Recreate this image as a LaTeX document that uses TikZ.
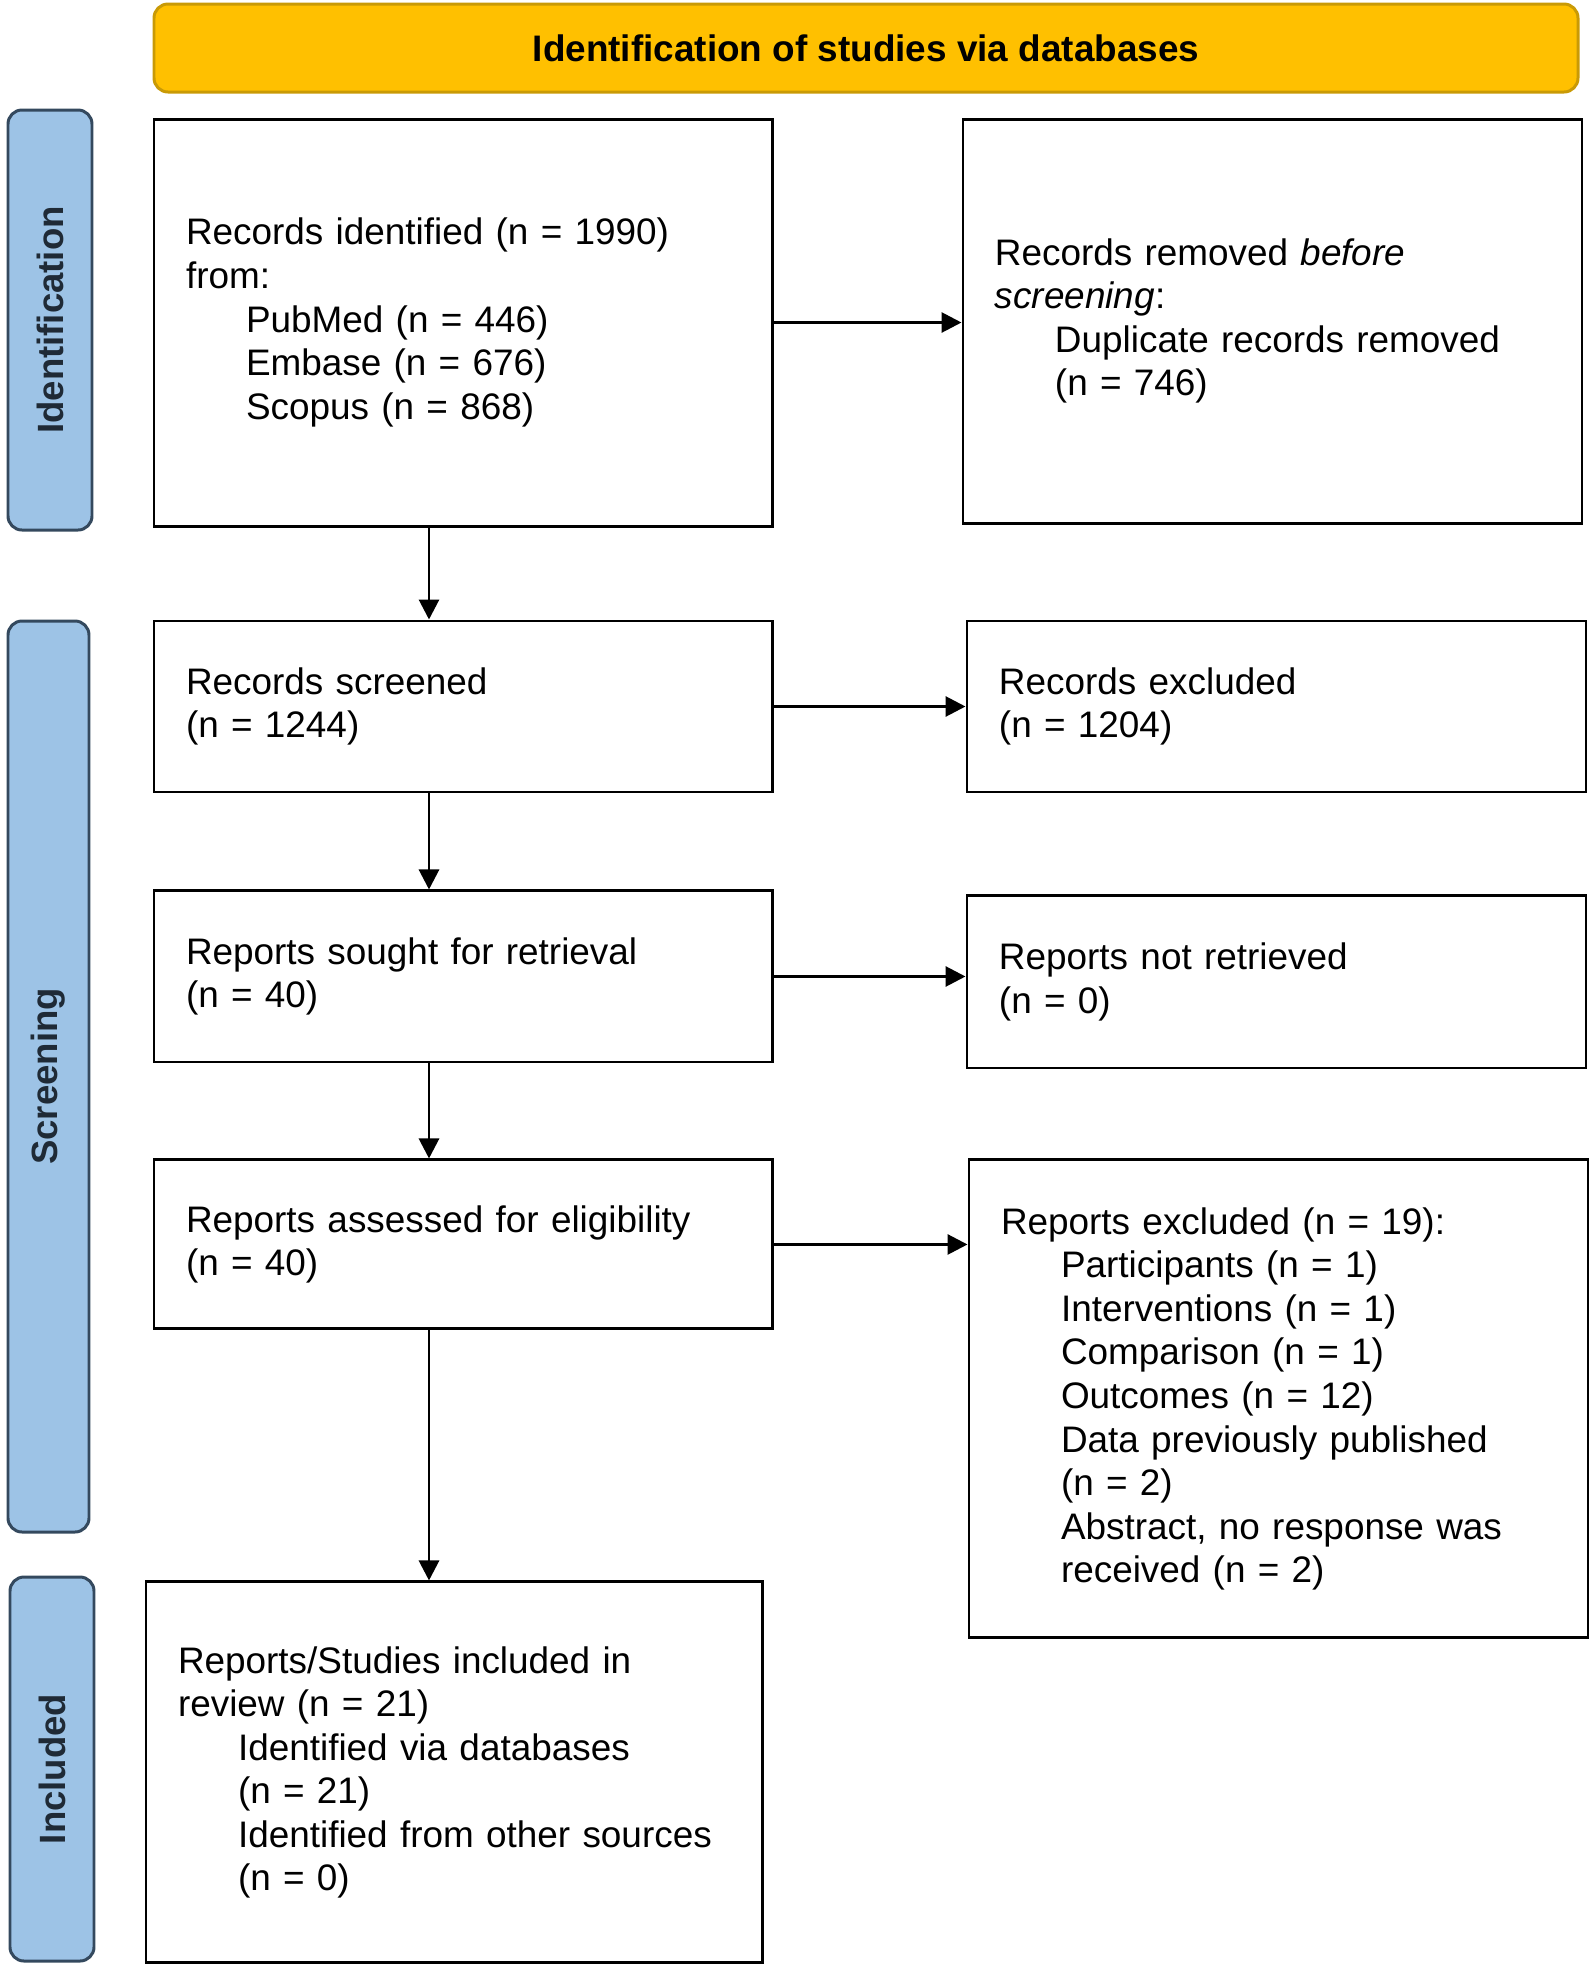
\documentclass[tikz,border=0pt]{standalone}
\usepackage{fontspec}
\setmainfont{Liberation Sans}
\usetikzlibrary{arrows.meta,positioning}

\definecolor{hdrfill}{HTML}{FFC000}
\definecolor{hdrline}{HTML}{C99A06}
\definecolor{sidefill}{HTML}{9DC3E6}
\definecolor{sideline}{HTML}{34495E}
\definecolor{sidetext}{HTML}{1F2A36}

\newcommand{\indl}{\hspace*{0.6cm}}

\begin{document}
\begin{tikzpicture}[
                            >={Triangle[length=2mm,width=2mm]},
                            node distance=0.95cm and 1.9cm,
                            line width=0.85pt
                        ]
                        \tikzstyle{lbox}=[draw=black,fill=white,text width=5.54cm,inner xsep=0.32cm,align=left,font=\fontsize{10.5}{12.4}\selectfont]
                        \tikzstyle{rbox}=[lbox,text width=5.55cm]
                        \tikzstyle{header}=[draw=hdrline,fill=hdrfill,rounded corners=0.14cm,minimum width=14.24cm,minimum height=0.88cm,font=\fontsize{10.5}{12.4}\selectfont\bfseries]
                        \tikzstyle{side}=[draw=sideline,fill=sidefill,rounded corners=0.14cm,rotate=90,text=sidetext,font=\fontsize{10.4}{12}\selectfont\bfseries]

                        \useasboundingbox (0,0) rectangle (15.93,-19.68);

                        \node[header] (head) at (8.66,-0.48) {Identification of studies via databases};

                        \node[side,minimum width=4.20cm,minimum height=0.84cm] (sideid)  at (0.50,-3.20)   {Identification};
                        \node[side,minimum width=9.11cm,minimum height=0.81cm] (sidescr) at (0.485,-10.765) {Screening};
                        \node[side,minimum width=3.84cm,minimum height=0.84cm] (sideinc) at (0.52,-17.69)  {Included};

                        \node[lbox,minimum height=4.07cm] (ident) at (4.63,-3.225)
                            {Records identified (n = 1990)\\from:\\\indl PubMed (n = 446)\\\indl Embase (n = 676)\\\indl Scopus (n = 868)};
                        \node[lbox,minimum height=1.71cm] (screened) [below=0.92cm of ident]
                            {Records screened\\(n = 1244)};
                        \node[lbox,minimum height=1.71cm] (sought)   [below=0.96cm of screened]
                            {Reports sought for retrieval\\(n = 40)};
                        \node[lbox,minimum height=1.69cm] (assessed) [below=of sought]
                            {Reports assessed for eligibility\\(n = 40)};
                        \node[lbox,minimum height=3.81cm,text width=5.52cm] (included) [below=2.50cm of assessed,xshift=-0.09cm]
                            {Reports/Studies included in\\review (n = 21)\\\indl Identified via databases\\\indl (n = 21)\\\indl Identified from other sources\\\indl (n = 0)};

                        \node[rbox,minimum height=4.04cm] (removed)  [right=1.88cm of ident.north east,anchor=north west]
                            {Records removed \textit{before}\\\textit{screening}:\\\indl Duplicate records removed\\\indl (n = 746)};
                        \node[rbox,minimum height=1.71cm] (excluded) [right=1.92cm of screened.north east,anchor=north west]
                            {Records excluded\\(n = 1204)};
                        \node[rbox,minimum height=1.72cm] (notret)   [right=1.92cm of sought.north east,anchor=north west,yshift=-0.05cm]
                            {Reports not retrieved\\(n = 0)};
                        \node[rbox,minimum height=4.78cm] (rexcl)    [right=1.94cm of assessed.north east,anchor=north west]
                            {Reports excluded (n = 19):\\\indl Participants (n = 1)\\\indl Interventions (n = 1)\\\indl Comparison (n = 1)\\\indl Outcomes (n = 12)\\\indl Data previously published\\\indl (n = 2)\\\indl Abstract, no response was\\\indl received (n = 2)};

                        \coordinate (ax) at (4.29,0);

                        \path[->]
                        (ident)    edge (ident -| removed.west)
                        (screened) edge (screened -| excluded.west)
                        (sought)   edge (sought -| notret.west)
                        (assessed) edge (assessed -| rexcl.west)
                        (ident.south -| ax)    edge (screened.north -| ax)
                        (screened.south -| ax) edge (sought.north -| ax)
                        (sought.south -| ax)   edge (assessed.north -| ax)
                        (assessed.south -| ax) edge (included.north -| ax)
                        ;
                    \end{tikzpicture}
\end{document}
